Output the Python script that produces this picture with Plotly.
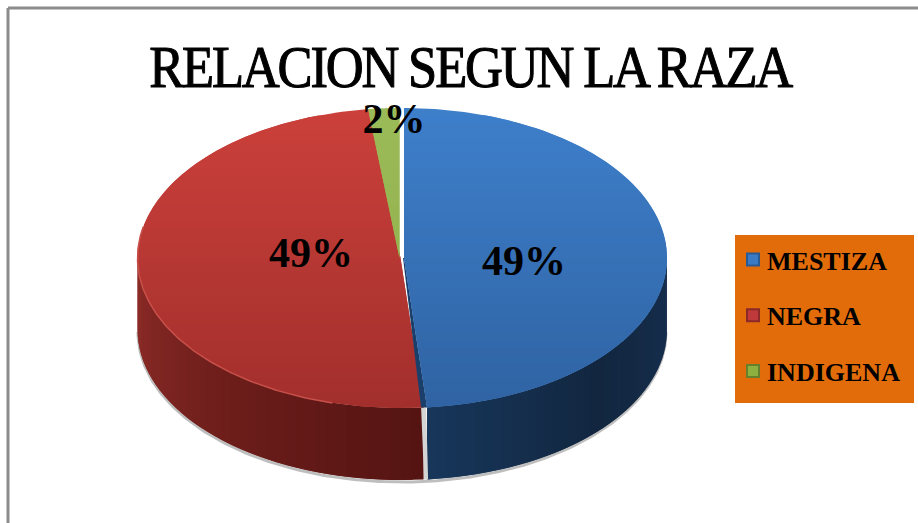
import numpy as np
import plotly.graph_objects as go

# ---- data ----
categories = ["MESTIZA", "NEGRA", "INDIGENA"]
values = [48.6, 49.49, 1.91]
percent_labels = ["49%", "49%", "2%"]
title_text = "RELACION SEGUN LA RAZA"

# ---- styling / layout constants (pixels of the 918x523 page) ----
W, H = 918, 523
CX, CY, A, B, DEPTH = 401, 258, 263, 150, 72
OFFSETS = [(3, 0), (-0.5, 0), (-1.5, 0)]
LEG_COL = ["#3B7AC4", "#C0393A", "#8DB03F"]
LEG_EDGE = ["#2A5A92", "#8A2A28", "#66802E"]
TOP_GRAD = [("#3E7FCB", "#2F63A3"), ("#CC403B", "#A22F2C"), ("#9BBB59", "#8BAD45")]
WALL_GRAD = [("#16304F", "#12263F", "#17365A"), ("#541412", "#6E1E1B", "#8E2C28"),
             ("#5F7A2A", "#5F7A2A", "#5F7A2A")]
SLIVER = "#1B3F6B"
SLIT = "#D4D4D4"
RIM_RED = "#C8504A"
SHADOW = "rgba(110,110,110,0.45)"
LABEL_POS = [(524, 264), (311, 256), (394, 122)]
FONT = "Liberation Serif"


def hex2rgb(h):
    return np.array([int(h[i:i + 2], 16) for i in (1, 3, 5)], float)


def mix(stops, t):
    s = t * (len(stops) - 1)
    j = min(int(s), len(stops) - 2)
    f = s - j
    r = hex2rgb(stops[j]) * (1 - f) + hex2rgb(stops[j + 1]) * f
    return "rgb(%d,%d,%d)" % tuple(r.round())


def clip(poly, ylo, yhi):
    def half(pts, keep, cross):
        out = []
        for i in range(len(pts)):
            p, q = pts[i], pts[(i + 1) % len(pts)]
            if keep(p):
                out.append(p)
            if keep(p) != keep(q):
                t = (cross - p[1]) / (q[1] - p[1])
                out.append((p[0] + t * (q[0] - p[0]), cross))
        return out
    pts = half(poly, lambda p: p[1] >= ylo, ylo)
    if pts:
        pts = half(pts, lambda p: p[1] <= yhi, yhi)
    return pts


fig = go.Figure()


def add_poly(xs, ys, color):
    fig.add_trace(go.Scatter(x=xs, y=ys, mode="lines", fill="toself", fillcolor=color,
                             line=dict(color=color, width=0), hoverinfo="skip",
                             showlegend=False))


def add_line(xs, ys, color, width):
    fig.add_trace(go.Scatter(x=xs, y=ys, mode="lines", line=dict(color=color, width=width),
                             hoverinfo="skip", showlegend=False))


fractions = np.array(values) / sum(values)
edges = np.concatenate([[0], np.cumsum(fractions)]) * 2 * np.pi

# soft shadow under the drum
front = np.linspace(np.pi / 2, 3 * np.pi / 2, 200)
add_line(CX + 1 + (A + 1) * np.sin(front), CY + DEPTH + 2 - B * np.cos(front), SHADOW, 3)

# outer walls: each strip overlaps the next so no seams show
for i in range(3):
    dx, dy = OFFSETS[i]
    t0, t1 = max(edges[i], np.pi / 2), min(edges[i + 1], 3 * np.pi / 2)
    if t1 <= t0:
        continue
    n = 40
    grid = np.linspace(t0, t1, n + 1)
    for k in range(n):
        seg = np.linspace(grid[k], grid[min(k + 2, n)], 6)
        xt = CX + dx + A * np.sin(seg)
        yt = CY + dy - B * np.cos(seg)
        xs = np.concatenate([xt, xt[::-1], xt[:1]])
        ys = np.concatenate([yt, yt[::-1] + DEPTH, yt[:1]])
        add_poly(xs, ys, mix(WALL_GRAD[i], (k + 0.5) / n))

# pale slit between the two front walls
bx = CX + OFFSETS[0][0] + A * np.sin(edges[1])
by = CY - B * np.cos(edges[1])
add_poly([bx - 6, bx - 1, bx + 1, bx - 3, bx - 6],
         [by, by, by + DEPTH, by + DEPTH, by], SLIT)

# top faces, vertical gradient in overlapping bands
for i in (1, 2, 0):
    dx, dy = OFFSETS[i]
    th = np.linspace(edges[i], edges[i + 1], 240)
    poly = [(CX + dx, CY + dy)] + [(CX + dx + A * np.sin(t), CY + dy - B * np.cos(t)) for t in th]
    bands = np.linspace(CY - B, CY + B, 41)
    if i == 0:  # cut side of the pulled-out blue slice, seen along its edge
        add_poly([CX + dx, bx, bx - 6, CX + dx - 1, CX + dx],
                 [CY + dy, by, by, CY + dy, CY + dy], SLIVER)
    for k in range(40):
        pts = clip(poly, bands[k], bands[min(k + 2, 40)])
        if len(pts) >= 3:
            xs = [p[0] for p in pts] + [pts[0][0]]
            ys = [p[1] for p in pts] + [pts[0][1]]
            add_poly(xs, ys, mix(TOP_GRAD[i], (k + 0.5) / 40))

# lit rim along the lower left of the red face
rim = np.linspace(np.radians(195), np.radians(282), 120)
add_line(CX + OFFSETS[1][0] + A * np.sin(rim), CY - B * np.cos(rim), RIM_RED, 1.5)

# data labels
fig.add_trace(go.Scatter(x=[p[0] for p in LABEL_POS], y=[p[1] for p in LABEL_POS],
                         mode="text", text=percent_labels,
                         textfont=dict(family=FONT, size=42, color="black", weight="bold"),
                         hoverinfo="skip", showlegend=False))

# legend entries
for name, col, edge in zip(categories, LEG_COL, LEG_EDGE):
    fig.add_trace(go.Scatter(x=[None], y=[None], mode="markers", name=name, legendgroup=name,
                             marker=dict(symbol="square", size=14, color=col,
                                         line=dict(color=edge, width=1))))

fig.update_layout(
    width=W, height=H, margin=dict(l=0, r=0, t=0, b=0),
    paper_bgcolor="white", plot_bgcolor="white",
    xaxis=dict(range=[0, W], visible=False, fixedrange=True),
    yaxis=dict(range=[H, 0], visible=False, fixedrange=True),
    title=dict(text=title_text, x=470 / W, xanchor="center", y=1 - 66 / H, yanchor="middle",
               font=dict(family=FONT, size=60, color="black")),
    legend=dict(x=727 / W, xanchor="left", y=1 - 236 / H, yanchor="top",
                bgcolor="rgba(0,0,0,0)", tracegroupgap=19,
                font=dict(family=FONT, size=26, color="black", weight="bold"),
                itemsizing="constant"),
    shapes=[
        dict(type="line", xref="x", yref="y", x0=8, x1=8, y0=8, y1=H,
             line=dict(color="#8C8C8C", width=3)),
        dict(type="line", xref="x", yref="y", x0=8, x1=W, y0=8, y1=8,
             line=dict(color="#8C8C8C", width=3)),
        dict(type="rect", xref="x", yref="y", x0=735, x1=914, y0=235, y1=403,
             fillcolor="#E36C0A", line=dict(width=0), layer="below"),
    ],
)

# page margin off; title tightened and squeezed to the reference's condensed look;
# legend swatches nudged closer to their texts
post = """
document.body.style.margin = '0';
var t = document.querySelector('.gtitle');
if (t) {
  t.style.letterSpacing = '-2.5px';
  t.style.stroke = 'black';
  t.style.strokeWidth = '1.1px';
  var b = t.getBBox(), cx = b.x + b.width / 2, s = 644 / b.width;
  t.setAttribute('transform', 'translate(' + cx + ',0) scale(' + s + ',1) translate(' + (-cx) + ',0)');
}
document.querySelectorAll('.legendpoints').forEach(function (g) {
  g.setAttribute('transform', 'translate(6,0)');
});
"""
fig.write_html("out.html", post_script=post, config=dict(displayModeBar=False))
